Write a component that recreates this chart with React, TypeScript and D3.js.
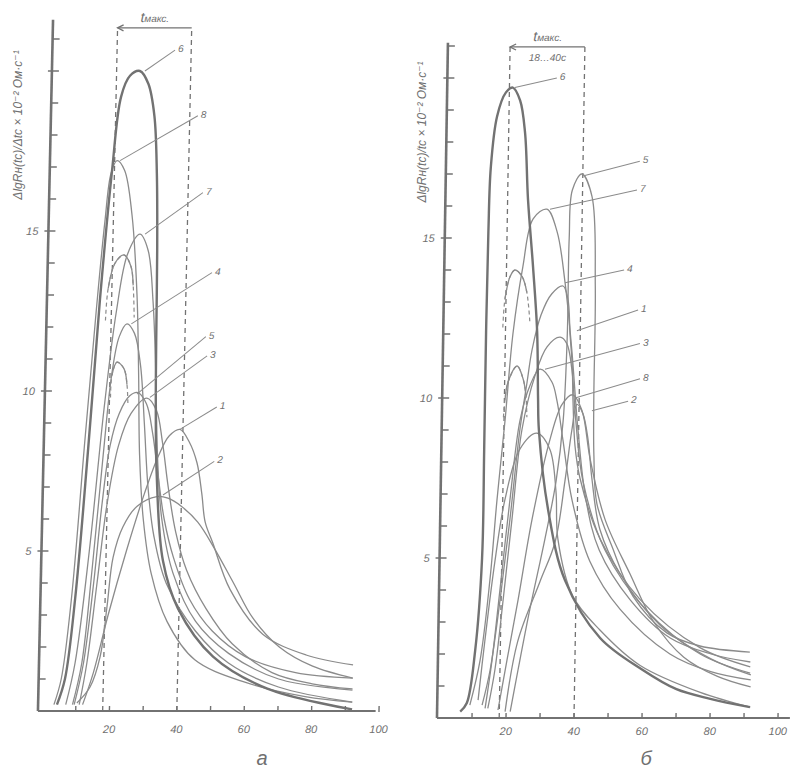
import React from 'react';
import * as d3 from 'd3';

type Pt = [number, number];

// ---- panel "а": time t (s) vs. ΔlgR / Δt ----
const a1: Pt[] = [[12, 0.2], [15, 1.2], [19, 3], [24, 5], [29, 6.8], [33, 8], [36, 8.6], [39.1, 8.8], [42, 8.4], [44.4, 7.75], [46, 6.8], [47.2, 5.9], [49.6, 5.25], [55, 3.8], [65, 2.4], [78, 1.75], [92, 1.44]];
const a2: Pt[] = [[10.3, 0.25], [14.1, 0.75], [16.9, 1.7], [18.6, 3.25], [20.1, 4.8], [22.8, 5.75], [26.9, 6.4], [32.7, 6.7], [36, 6.65], [40, 6.4], [45, 5.9], [50, 5.1], [56, 4], [62, 2.9], [70, 2.0], [80, 1.4], [92, 1.03]];
const a3: Pt[] = [[11, 0.2], [13, 1.5], [15.5, 4], [18, 6.5], [21, 8.3], [24.5, 9.3], [29.1, 9.78], [32, 9.4], [34, 8.4], [36, 7], [38.5, 5.6], [42, 4.4], [48, 3.2], [56, 2.1], [68, 1.2], [80, 0.85], [92, 0.69]];
const a4: Pt[] = [[9, 0.2], [11.5, 1.5], [14, 4.5], [16.5, 8], [18.5, 10.5], [20.5, 11.7], [22.7, 12.1], [25, 11.8], [27, 10.8], [28.5, 9], [30, 7], [32, 5.5], [36, 4], [45, 2.5], [55, 1.5], [70, 0.75], [92, 0.28]];
const a5: Pt[] = [[9.5, 0.2], [12, 1.5], [14.5, 4], [16.5, 6.5], [18.5, 8.3], [21, 9.3], [24, 9.85], [26.4, 9.95], [29, 9.6], [31, 8.7], [33, 7.3], [35, 6], [38, 4.8], [43, 3.5], [50, 2.5], [60, 1.7], [75, 1.2], [92, 1.03]];
const a6: Pt[] = [[4.4, 0.2], [6.6, 1.0], [9.1, 3.5], [12.0, 8.2], [14.5, 12.8], [17.3, 16.9], [19.5, 19.2], [22, 19.85], [24.9, 20.0], [27.5, 19.6], [29.5, 18.6], [30.6, 16.8], [31.2, 14.4], [31.5, 11.5], [31.8, 9.5], [32.5, 7.4], [34.9, 4.7], [39.7, 3.2], [50.4, 1.7], [66.7, 0.7], [92, 0.05]];
const a7: Pt[] = [[7, 0.2], [9.5, 1.5], [13, 5], [16.5, 9.5], [19.5, 12.5], [22.5, 14.3], [26, 14.9], [28.5, 14.4], [30.3, 12.8], [31.6, 10.5], [32.6, 8], [34.3, 6], [38, 4.3], [45, 2.8], [55, 1.8], [70, 1.0], [92, 0.65]];
const a8: Pt[] = [[3.5, 0.2], [5.5, 1.0], [8, 3.5], [11, 8.5], [13.5, 12.5], [15.5, 15.3], [17, 16.8], [18.7, 17.2], [21, 16.9], [23.5, 15.5], [25.5, 13], [26.5, 10.5], [27.3, 8], [28.8, 6], [31.5, 4.3], [36.5, 2.8], [45, 1.6], [60, 0.9], [78, 0.45], [92, 0.28]];
const aArcHi: Pt[] = [[16.3, 12.2], [16.9, 13.2], [18.8, 14.0], [21.4, 14.25], [23.5, 13.9], [24.3, 13.3], [24.8, 12.3]];
const aArcLo: Pt[] = [[18.3, 9.8], [18.6, 10.5], [20.0, 10.9], [22.1, 10.7], [23.1, 10.2], [23.5, 9.6]];

// leader lines: curve id, from (t, v), to (t, v)
const aLabels: [string, number, number, number, number][] = [
  ['6', 26.4, 20.0, 35.2, 20.65],
  ['8', 19.6, 17.2, 42.4, 18.6],
  ['7', 27.5, 14.9, 44.4, 16.2],
  ['4', 24.0, 12.1, 47.6, 13.7],
  ['5', 26.1, 9.9, 46.2, 11.7],
  ['3', 30.0, 9.8, 46.7, 11.1],
  ['1', 39.1, 8.8, 49.9, 9.5],
  ['2', 34.5, 6.75, 49.5, 7.8],
];

// ---- panel "б" ----
const b1: Pt[] = [[14.6, 0.3], [16.5, 1.5], [18.6, 3.7], [20.8, 6.2], [23.3, 9.0], [26.9, 10.7], [30.3, 11.6], [34.1, 11.9], [36.1, 11.7], [37.7, 10.9], [39.1, 9.3], [41.5, 7.4], [48.3, 5.25], [60.5, 3.4], [76.8, 2.0], [91.6, 1.4]];
const b2: Pt[] = [[19.7, 0.2], [23.1, 2.4], [29.3, 4.25], [33.6, 5.5], [36.2, 7.4], [38.0, 9.0], [39.4, 9.8], [41.2, 9.5], [42.8, 8.7], [44.1, 7.5], [46.7, 5.9], [52.9, 4.5], [64.9, 2.9], [80, 1.85], [91.8, 1.35]];
const b3: Pt[] = [[13.8, 0.3], [15.6, 1.8], [17.6, 4.0], [20.1, 6.8], [22.7, 9.3], [25.5, 10.4], [28.3, 10.9], [31.9, 10.5], [33.5, 9.9], [35.4, 8.7], [38.4, 6.8], [43.9, 4.9], [53.0, 3.4], [67.9, 2.0], [80, 1.45], [91.8, 1.19]];
const b4: Pt[] = [[12.9, 0.4], [15.1, 1.5], [17.7, 3.7], [20.2, 6.2], [22.7, 9.0], [24.6, 10.5], [25.9, 11.5], [28.4, 12.6], [31.4, 13.25], [34.7, 13.5], [36.2, 13.1], [37.0, 12.0], [37.8, 11.0], [38.2, 9.9], [39.0, 8.5], [40.6, 7.5], [46.8, 5.6], [58.9, 3.7], [76.7, 2.2], [91.6, 1.6]];
const b5: Pt[] = [[21.2, 0.2], [23.3, 1.5], [26.5, 3.4], [30.6, 5.6], [33.6, 7.4], [35.4, 9.3], [36.2, 12.0], [36.3, 15.0], [37.0, 16.5], [39.7, 17.0], [42.8, 16.3], [44.2, 13.5], [44.3, 10], [44.6, 8.2], [45.7, 6.7], [50.6, 5.3], [56.8, 3.8], [66.9, 2.66], [76.7, 2.25], [91.4, 2.06]];
const b6: Pt[] = [[6.5, 0.2], [8.4, 0.47], [10.6, 2.1], [12.2, 5.0], [12.3, 8.4], [12.3, 12.1], [12.5, 15.2], [12.9, 17.2], [14.5, 18.8], [17, 19.55], [19.0, 19.7], [21.2, 19.3], [22.8, 18.3], [24.0, 16.2], [25.8, 14.1], [27.3, 12.1], [27.9, 10.0], [28.3, 9.0], [31.4, 6.5], [36.7, 4.3], [47.3, 2.5], [60, 1.5], [70, 0.9], [80, 0.6], [91.7, 0.34]];
const b7: Pt[] = [[9.3, 0.4], [12.1, 1.8], [14.6, 4.3], [16.3, 6.8], [18.3, 9.3], [20.2, 12.0], [22.8, 14.1], [25.6, 15.6], [29.6, 15.9], [32.7, 15.2], [35.3, 13.6], [37.6, 11.5], [39.8, 9.0], [42.5, 6.8], [46.6, 5.25], [55.9, 3.7], [67.9, 2.5], [80, 2.0], [91.6, 1.75]];
const b8: Pt[] = [[17.6, 0.25], [20.0, 1.8], [23.0, 3.7], [26.7, 6.2], [31.6, 8.7], [35.0, 9.8], [38.1, 10.1], [40.9, 9.6], [43.5, 8.1], [48.2, 6.2], [55.8, 4.5], [63, 3.0], [72, 1.9], [82, 1.3], [91.8, 0.97]];
const bWide: Pt[] = [[11.7, 0.56], [13.4, 2.4], [16, 4.9], [18.6, 6.8], [22.8, 8.4], [27.7, 8.9], [31.6, 8.4], [33.6, 7.1], [34.4, 5.6], [39.1, 3.8], [47.2, 2.75], [59.1, 1.65], [77, 0.8], [91.8, 0.34]];
const bArcHi: Pt[] = [[17.2, 12.2], [17.7, 13.1], [19.1, 13.8], [20.5, 14.0], [22.6, 13.8], [24.1, 13.3], [25.1, 12.4]];
const bArcLo: Pt[] = [[17.8, 9.4], [18.2, 9.95], [19.0, 10.5], [21.6, 11.0], [23.4, 10.6], [24.3, 10.1], [24.7, 9.4]];

const bLabels: [string, number, number, number, number][] = [
  ['6', 19.6, 19.7, 31.9, 20.0],
  ['5', 40.6, 16.95, 56.7, 17.4],
  ['7', 30.5, 15.9, 56.0, 16.5],
  ['4', 35.3, 13.6, 52.6, 14.0],
  ['1', 39.0, 12.1, 56.9, 12.75],
  ['3', 29.8, 10.9, 57.6, 11.7],
  ['8', 38.8, 10.0, 57.8, 10.6],
  ['2', 43.8, 9.6, 54.4, 9.9],
];

const xTickValues = [20, 40, 60, 80, 100];
const yLabelValues = [5, 10, 15];
const tMax: [number, number] = [18, 40];

const LINE = '#8b8b8b';
const AXIS = '#727272';
const TEXT = '#707070';
const FONT = 'Liberation Sans, DejaVu Sans, sans-serif';

type PanelProps = {
  x: d3.ScaleLinear<number, number>;
  y: d3.ScaleLinear<number, number>;
  skew: number;
  xStart: number;
  xEnd: number;
  yTop: number;
  curves: Pt[][];
  thick: Pt[][];
  arcs: Pt[][];
  labels: [string, number, number, number, number][];
  bracketV: number;
  rangeText: boolean;
  tickLabelDy: number;
};

function Panel(p: PanelProps) {
  const { x, y } = p;
  const y0 = y(0);
  const ax = x(p.xStart);
  const line = d3.line<Pt>().x(d => x(d[0])).y(d => y(d[1])).curve(d3.curveCatmullRom.alpha(0.5));
  const minor = d3.range(1, Math.floor(p.yTop) + 1);
  const xMinor = d3.range(10, 101, 10);
  const bx0 = x(tMax[0]);
  const bx1 = x(tMax[1]);
  const by = y(p.bracketV);
  return (
    <g transform={`translate(0,${y0}) skewX(${p.skew}) translate(0,${-y0})`}>
      {/* axes */}
      <line x1={ax} x2={ax} y1={y0} y2={y(p.yTop)} stroke={AXIS} strokeWidth={2.6} />
      <line x1={ax} x2={x(p.xEnd)} y1={y0} y2={y0} stroke={AXIS} strokeWidth={2} />
      {minor.map(v => (
        <line key={v} x1={ax - (v % 5 === 0 ? 4 : 0)} x2={ax + 7} y1={y(v)} y2={y(v)} stroke={AXIS} strokeWidth={1.6} />
      ))}
      {yLabelValues.map(v => (
        <text key={v} x={ax - 10} y={y(v) + 4} textAnchor="end" fontSize={11} fontStyle="italic" fill={TEXT} fontFamily={FONT}>{v}</text>
      ))}
      {xMinor.map(t => (
        <line key={t} x1={x(t)} x2={x(t)} y1={y0 + 1} y2={y0 - 5} stroke={AXIS} strokeWidth={1.4} />
      ))}
      {xTickValues.map(t => (
        <text key={t} x={x(t)} y={y0 + p.tickLabelDy} textAnchor="middle" fontSize={11} fontStyle="italic" fill={TEXT} fontFamily={FONT}>{t}</text>
      ))}

      {/* t max dashed guides and bracket */}
      {tMax.map(t => (
        <line key={t} x1={x(t)} x2={x(t)} y1={y0} y2={by} stroke={AXIS} strokeWidth={1.3} strokeDasharray="5,4" />
      ))}
      <line x1={bx0} x2={bx1} y1={by} y2={by} stroke={AXIS} strokeWidth={1.3} />
      <path d={`M${bx0 + 6},${by - 3} L${bx0},${by} L${bx0 + 6},${by + 3}`} fill="none" stroke={AXIS} strokeWidth={1.3} />
      <text x={(bx0 + bx1) / 2} y={by - 6} textAnchor="middle" fontStyle="italic" fill={TEXT} fontFamily={FONT}>
        <tspan fontSize={14}>t</tspan><tspan fontSize={10}>макс.</tspan>
      </text>
      {p.rangeText && (
        <text x={(bx0 + bx1) / 2} y={by + 14} textAnchor="middle" fontSize={10} fontStyle="italic" fill={TEXT} fontFamily={FONT}>18…40с</text>
      )}

      {/* curves */}
      {p.curves.map((c, i) => (
        <path key={i} d={line(c) ?? ''} fill="none" stroke={LINE} strokeWidth={1.3} />
      ))}
      {p.thick.map((c, i) => (
        <path key={'t' + i} d={line(c) ?? ''} fill="none" stroke={AXIS} strokeWidth={2.4} />
      ))}
      {p.arcs.map((c, i) => (
        <g key={'a' + i}>
          <path d={line(c) ?? ''} fill="none" stroke={LINE} strokeWidth={1.2} strokeDasharray="4,3" />
          <path d={line(c.slice(1, -1)) ?? ''} fill="none" stroke={LINE} strokeWidth={1.3} />
        </g>
      ))}

      {/* curve numbers */}
      {p.labels.map(([id, t0, v0, t1, v1]) => (
        <g key={id}>
          <line x1={x(t0)} y1={y(v0)} x2={x(t1)} y2={y(v1)} stroke={LINE} strokeWidth={1} />
          <text x={x(t1) + 3} y={y(v1) + 2} fontSize={10} fontStyle="italic" fill={TEXT} fontFamily={FONT}>{id}</text>
        </g>
      ))}
    </g>
  );
}

export default function App() {
  const xA = d3.scaleLinear().domain([0, 100]).range([42, 379]);
  const yA = d3.scaleLinear().domain([0, 20]).range([711, 71]);
  const xB = d3.scaleLinear().domain([0, 100]).range([438, 778]);
  const yB = d3.scaleLinear().domain([0, 20]).range([718, 78]);

  return (
    <svg width={797} height={769} viewBox="0 0 797 769" style={{ position: 'absolute', left: 0, top: 0, background: '#fff' }}>
      <rect width={797} height={769} fill="#fff" />
      <Panel x={xA} y={yA} skew={-1.25} xStart={-1.2} xEnd={99} yTop={21.6}
        curves={[a1, a2, a3, a4, a5, a7, a8]} thick={[a6]} arcs={[aArcHi, aArcLo]}
        labels={aLabels} bracketV={21.35} rangeText={false} tickLabelDy={22} />
      <Panel x={xB} y={yB} skew={-0.93} xStart={-0.3} xEnd={103.5} yTop={21.1}
        curves={[b1, b2, b3, b4, b5, b7, b8, bWide]} thick={[b6]} arcs={[bArcHi, bArcLo]}
        labels={bLabels} bracketV={20.97} rangeText={true} tickLabelDy={17} />

      <text transform="translate(22,125) rotate(-90)" textAnchor="middle" fontSize={12} fontStyle="italic" fill={TEXT} fontFamily={FONT}>
        ΔlgRн(tс)/Δtс × 10⁻² Ом·с⁻¹
      </text>
      <text transform="translate(426,132) rotate(-90)" textAnchor="middle" fontSize={12} fontStyle="italic" fill={TEXT} fontFamily={FONT}>
        ΔlgRн(tс)/tс × 10⁻² Ом·с⁻¹
      </text>
      <text x={262} y={765} textAnchor="middle" fontSize={20} fontStyle="italic" fill={TEXT} fontFamily={FONT}>а</text>
      <text x={646} y={765} textAnchor="middle" fontSize={20} fontStyle="italic" fill={TEXT} fontFamily={FONT}>б</text>
    </svg>
  );
}
